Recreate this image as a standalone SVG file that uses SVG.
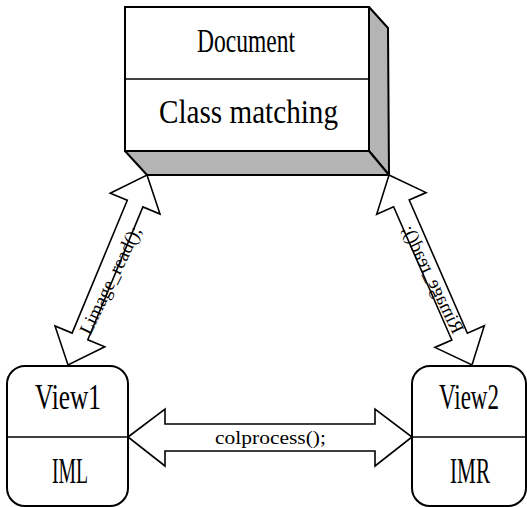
<svg xmlns="http://www.w3.org/2000/svg" width="527" height="507" viewBox="0 0 527 507">
<style>
.box{fill:#fff;stroke:#000;stroke-width:2}
.shade{fill:#b4b4b4;stroke:#000;stroke-width:2;stroke-linejoin:round}
.div{stroke:#000;stroke-width:1.6}
.arr{fill:#fff;stroke:#000;stroke-width:1.6;stroke-linejoin:miter}
.t{font-family:"Liberation Serif","Times New Roman",serif;fill:#000;text-anchor:middle}
.big{font-size:33px}
.mid{font-size:35px}
.lab{font-size:19px}
</style>
<rect width="527" height="507" fill="#fff"/>
<g id="connectors">
  <polygon class="arr" points="147,175 160,214 142.9,206.9 87.8,339.7 104.8,346.8 68,365 55,326 72.1,333.1 127.3,200.3 110.2,193.2"/>
  <polygon class="arr" points="389,175 426.1,192.6 409.2,200 467.4,333.2 484.3,325.8 472,365 434.9,347.4 451.8,340 393.6,206.8 376.7,214.2"/>
  <polygon class="arr" points="128,437 165,409 165,424 375,424 375,409 412,437 375,466 375,451 165,451 165,466"/>
  <text class="t lab" transform="translate(116,283) rotate(-64)" textLength="118" lengthAdjust="spacingAndGlyphs">Limage_read();</text>
  <g transform="translate(541.5,0) scale(-1,1)">
    <text class="t lab" transform="translate(114,282) rotate(-64)" textLength="118" lengthAdjust="spacingAndGlyphs">Rimage_read();</text>
  </g>
  <text class="t" style="font-size:19px" x="270.5" y="444" textLength="111" lengthAdjust="spacingAndGlyphs">colprocess();</text>
</g>
<g id="document">
  <polygon class="shade" points="369,7 388,28 389,175 369,151"/>
  <polygon class="shade" points="125,151 369,151 389,175 147,175"/>
  <rect class="box" x="125" y="7" width="244" height="144"/>
  <line class="div" x1="125" y1="79" x2="369" y2="79"/>
  <text class="t big" x="246" y="52" textLength="98" lengthAdjust="spacingAndGlyphs">Document</text>
  <text class="t big" x="248.5" y="123" textLength="179" lengthAdjust="spacingAndGlyphs">Class matching</text>
</g>
<g id="view1">
  <rect class="box" x="7" y="366" width="121" height="140" rx="18"/>
  <line class="div" x1="7" y1="437" x2="128" y2="437"/>
  <text class="t mid" x="68" y="409" textLength="66" lengthAdjust="spacingAndGlyphs">View1</text>
  <text class="t mid" x="70" y="483" textLength="36" lengthAdjust="spacingAndGlyphs">IML</text>
</g>
<g id="view2">
  <rect class="box" x="412" y="366" width="114" height="140" rx="18"/>
  <line class="div" x1="412" y1="437" x2="526" y2="437"/>
  <text class="t mid" x="469" y="409" textLength="60" lengthAdjust="spacingAndGlyphs">View2</text>
  <text class="t mid" x="470" y="483" textLength="40" lengthAdjust="spacingAndGlyphs">IMR</text>
</g>
</svg>
